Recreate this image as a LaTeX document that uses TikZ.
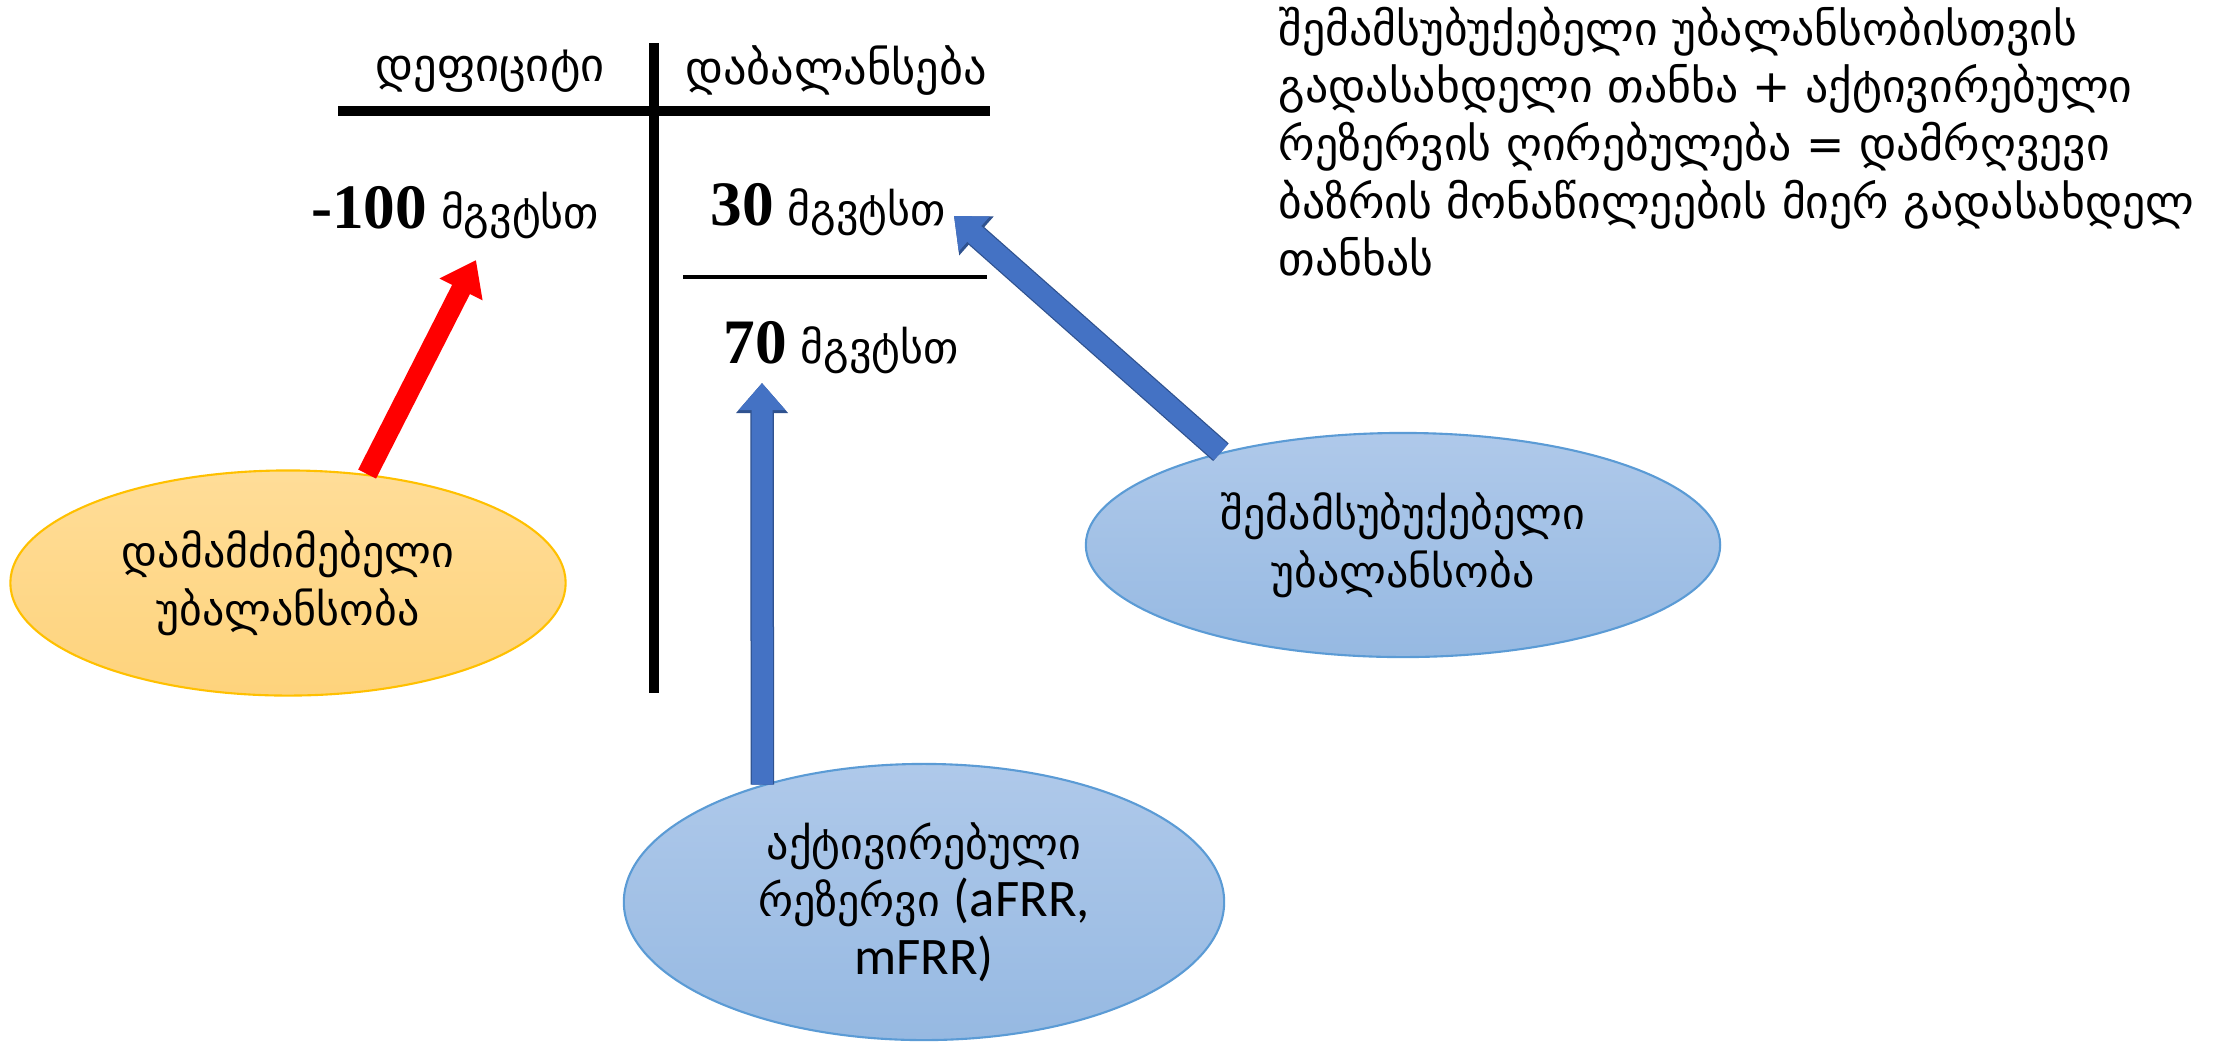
\documentclass[tikz,border=0pt]{standalone}
\usepackage{fontspec}
\setmainfont{DejaVu Sans}
\newfontfamily\numfont{Liberation Serif}
\newfontfamily\latfont{Carlito}
\usetikzlibrary{shapes.geometric,arrows.meta}

\definecolor{sunny}{RGB}{255,192,0}
\definecolor{sunnytop}{RGB}{255,221,152}
\definecolor{sunnybot}{RGB}{254,211,124}
\definecolor{skyedge}{RGB}{91,155,213}
\definecolor{skytop}{RGB}{175,201,234}
\definecolor{skybot}{RGB}{150,185,226}
\definecolor{arrowblue}{RGB}{68,114,196}
\definecolor{arrowedge}{RGB}{47,82,143}

\newcommand{\geo}{\fontsize{12.5}{16.4}\selectfont}
\newcommand{\amt}[1]{{\numfont\bfseries\fontsize{18}{20}\selectfont #1}}

\begin{document}
\begin{tikzpicture}[x=0.01cm,y=-0.01cm,
    blob/.style={ellipse,inner sep=0,align=center,font=\geo,line width=0.6pt},
    yellowblob/.style={blob,draw=sunny,top color=sunnytop,bottom color=sunnybot},
    blueblob/.style={blob,draw=skyedge,top color=skytop,bottom color=skybot},
    colhead/.style={font=\fontsize{13.2}{16}\selectfont},
    redarrow/.style={draw=red,line width=0.2cm,-{Triangle[length=0.33cm,width=0.46cm]}},
    bluearrow/.style={draw=arrowblue,line width=0.21cm,-{Triangle[length=0.27cm,width=0.45cm]},
      preaction={draw=arrowedge,line width=0.235cm,-{Triangle[length=0.3cm,width=0.5cm]}}}]
    \useasboundingbox (0,0) rectangle (2226,1041);

    \coordinate (Top) at (654,43);
    \coordinate (Bot) at (654,693);

    % T-account
    \draw[line width=0.1cm] (Top) -- (Bot);
    \draw[line width=0.1cm] (338,111) -- (990,111);
    \draw[line width=0.04cm] (683,277) -- (987,277);

    \node[colhead] (deb) at (490,71) {დეფიციტი};
    \node[colhead] (cre) at (836,71) {დაბალანსება};

    \node[font=\geo] (def) at (455,213) {\amt{-100} მგვტსთ};
    \node[font=\geo] (bal) at (828,210) {\amt{30} მგვტსთ};
    \node[font=\geo] (rsv) at (841,348) {\amt{70} მგვტსთ};

    %############################################

    \node[yellowblob,minimum width=5.55cm,minimum height=2.25cm] (agg) at (288,583)
        {დამამძიმებელი\\უბალანსობა};
    \node[blueblob,minimum width=6.34cm,minimum height=2.24cm] (rel) at (1403,545)
        {შემამსუბუქებელი\\უბალანსობა};
    \node[blueblob,minimum width=6cm,minimum height=2.76cm] (act) at (924,902)
        {აქტივირებული\\რეზერვი {\latfont\fontsize{15}{16}\selectfont(aFRR,}\\{\latfont\fontsize{15}{16}\selectfont mFRR)}};

    \node[anchor=north west,inner sep=0,align=left,font=\fontsize{13}{16.4}\selectfont] (rule) at (1278,6)
        {შემამსუბუქებელი უბალანსობისთვის\\
         გადასახდელი თანხა + აქტივირებული\\
         რეზერვის ღირებულება = დამრღვევი\\
         ბაზრის მონაწილეების მიერ გადასახდელ\\
         თანხას};

    \coordinate (defTip) at (476,260);
    \coordinate (balTip) at (954,216);
    \coordinate (rsvTip) at (762,383);

    \draw[redarrow] (agg.54) -- (defTip);
    \draw[bluearrow] (rel.153) -- (balTip);
    \draw[bluearrow] (act.144) -- (rsvTip);
\end{tikzpicture}
\end{document}
